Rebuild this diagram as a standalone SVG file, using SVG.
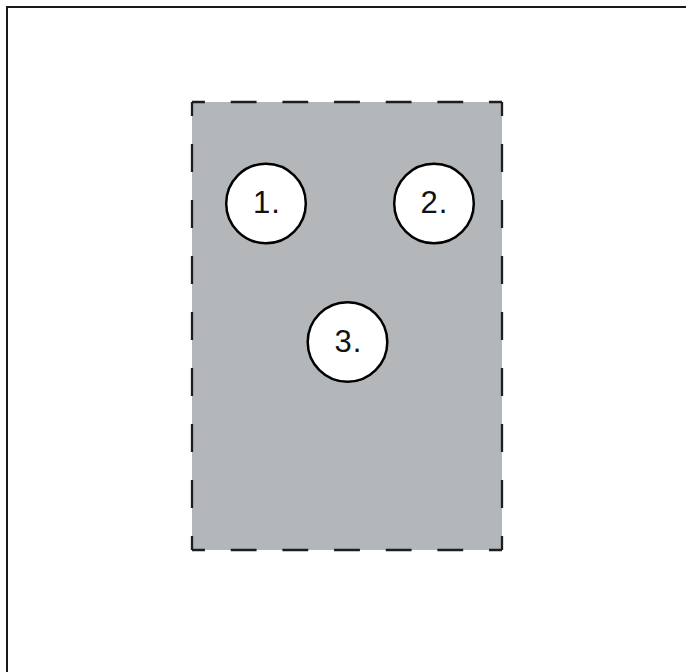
<svg xmlns="http://www.w3.org/2000/svg" width="686" height="672" viewBox="0 0 686 672">
<style>
.frame{fill:#ffffff;stroke:#1a1a1a;stroke-width:2}
.side{stroke:#1e1e22;stroke-width:2.3;fill:none}
.node circle{fill:#ffffff;stroke:#000000;stroke-width:2.5}
.node text{font-family:"Liberation Sans",Arial,sans-serif;font-size:31px;fill:#111111;text-anchor:middle;letter-spacing:1px}
</style>
<rect x="0" y="0" width="686" height="672" fill="#ffffff"/>
<rect class="frame" x="7" y="7" width="720" height="720"/>
<g id="container">
<rect x="192" y="102" width="310" height="448" fill="#b3b7b9"/>
<line class="side" x1="192" y1="102" x2="502" y2="102" stroke-dasharray="25.83 25.83" stroke-dashoffset="12.92"/>
<line class="side" x1="192" y1="550" x2="502" y2="550" stroke-dasharray="25.83 25.83" stroke-dashoffset="12.92"/>
<line class="side" x1="192" y1="102" x2="192" y2="550" stroke-dasharray="28 28" stroke-dashoffset="14"/>
<line class="side" x1="502" y1="102" x2="502" y2="550" stroke-dasharray="28 28" stroke-dashoffset="14"/>
</g>
<g id="connectors"></g>
<g id="node1" class="node">
<circle cx="266" cy="203.5" r="39.8"/>
<text x="267" y="212.5">1.</text>
</g>
<g id="node2" class="node">
<circle cx="434" cy="203.5" r="39.8"/>
<text x="434.5" y="212.5">2.</text>
</g>
<g id="node3" class="node">
<circle cx="347.5" cy="342" r="39.8"/>
<text x="348.5" y="351.5">3.</text>
</g>
</svg>
